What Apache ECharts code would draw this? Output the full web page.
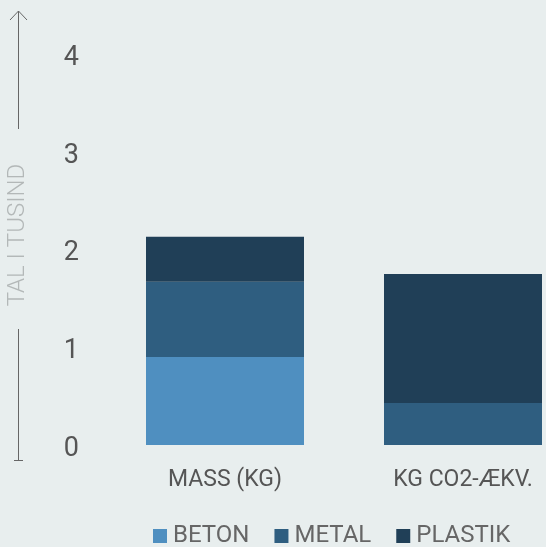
<!DOCTYPE html>
<html>
<head>
<meta charset="utf-8">
<script src="https://cdn.jsdelivr.net/npm/echarts@6/dist/echarts.min.js"></script>
<style>
html,body{margin:0;padding:0;background:#e8eeee;}
#chart{width:546px;height:547px;}
</style>
</head>
<body>
<div id="chart"></div>
<script>
var categories = ['MASS (KG)', 'KG CO2-ÆKV.'];
var seriesNames = ['BETON', 'METAL', 'PLASTIK'];
var beton = [0.90, 0];
var metal = [0.77, 0.43];
var plastik = [0.46, 1.32];
var yTicks = [0, 1, 2, 3, 4];
var axisTitle = 'TAL I TUSIND';

var colors = ['#4f8fc0', '#2f5e80', '#203f57'];
var FONT = 'Roboto';
var chart = echarts.init(document.getElementById('chart'), null, {renderer: 'canvas'});
var values = [beton, metal, plastik];
var series = seriesNames.map(function (n, i) {
  return {
    name: n, type: 'bar', stack: 'total', barWidth: 158,
    data: values[i], itemStyle: {color: colors[i]}
  };
});
chart.setOption({
  backgroundColor: '#e8eeee',
  animation: false,
  color: colors,
  grid: {left: 106, width: 476, top: 54, height: 391, containLabel: false, outerBoundsMode: 'none'},
  legend: {
    data: seriesNames, left: 148, top: 519, icon: 'rect',
    itemWidth: 14, itemHeight: 14, itemGap: 25,
    textStyle: {fontFamily: FONT, fontSize: 24, color: '#666', padding: [0, 0, 0, 1]}
  },
  xAxis: {
    type: 'category', data: categories,
    axisLine: {show: false}, axisTick: {show: false},
    axisLabel: {fontFamily: FONT, fontSize: 23, color: '#555', margin: 24}
  },
  yAxis: {
    type: 'value', min: yTicks[0], max: yTicks[yTicks.length - 1], interval: 1,
    splitLine: {show: false}, axisLine: {show: false}, axisTick: {show: false},
    axisLabel: {
      margin: 27, formatter: '{a|{value}}',
      rich: {a: {fontFamily: FONT, fontSize: 27, color: '#555', padding: [8, 0, 0, 0]}}
    }
  },
  graphic: [
    {type: 'line', shape: {x1: 18.5, y1: 11, x2: 18.5, y2: 129}, style: {stroke: '#666', lineWidth: 1}},
    {type: 'polyline', shape: {points: [[10, 20], [18.5, 11], [27, 20]]}, style: {stroke: '#666', lineWidth: 1, fill: null}},
    {type: 'line', shape: {x1: 18.5, y1: 329, x2: 18.5, y2: 460}, style: {stroke: '#666', lineWidth: 1}},
    {type: 'line', shape: {x1: 14, y1: 460.5, x2: 23, y2: 460.5}, style: {stroke: '#666', lineWidth: 1}},
    {type: 'text', x: 18, y: 235, rotation: Math.PI / 2,
     style: {text: axisTitle, font: '300 24px Roboto', fill: '#b3b8b8', textAlign: 'center', textVerticalAlign: 'middle'}}
  ],
  series: series
});
</script>
</body>
</html>
